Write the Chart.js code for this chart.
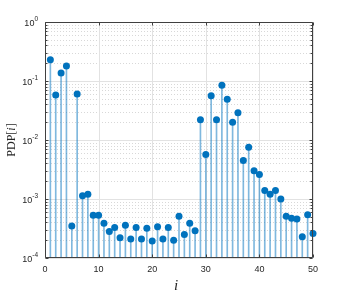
<!DOCTYPE html>
<html lang="en">
<head>
<meta charset="UTF-8" />
<title>PDP stem plot</title>
<script src="https://cdn.jsdelivr.net/npm/chart.js@4"></script>
<style>
  html, body { margin: 0; padding: 0; background: #fff; }
</style>
</head>
<body>
<canvas id="pdpChart" width="346" height="295"></canvas>
<script>
// tap index and power delay profile value per tap
const taps = [];
for (let i = 1; i <= 50; i++) taps.push(i);
const pdp = [
  0.23, 0.058, 0.137, 0.18, 3.5e-4, 0.06, 1.13e-3, 1.2e-3, 5.3e-4, 5.3e-4,
  3.9e-4, 2.8e-4, 3.3e-4, 2.2e-4, 3.6e-4, 2.1e-4, 3.3e-4, 2.1e-4, 3.2e-4, 1.95e-4,
  3.4e-4, 2.1e-4, 3.3e-4, 2.0e-4, 5.1e-4, 2.5e-4, 3.9e-4, 2.9e-4, 0.022, 5.7e-3,
  0.056, 0.022, 0.085, 0.049, 0.020, 0.029, 4.5e-3, 7.5e-3, 3.0e-3, 2.6e-3,
  1.4e-3, 1.2e-3, 1.4e-3, 1.0e-3, 5.1e-4, 4.7e-4, 4.6e-4, 2.3e-4, 5.4e-4, 2.6e-4
];
const xTicks = [0, 10, 20, 30, 40, 50];
const yDecades = [-4, -3, -2, -1, 0];
const yMin = 1e-4, yMax = 1;

const axisColor = '#404040';
const textColor = '#262626';

// grid, box, ticks, log labels and titles (matlab-ish look)
const axesPlugin = {
  id: 'matlabAxes',
  beforeDatasetsDraw(chart) {
    const {ctx, chartArea: a, scales: {x, y}} = chart;
    ctx.save();
    ctx.lineWidth = 1;
    // minor horizontal grid, dotted
    ctx.strokeStyle = '#d8d8d8';
    ctx.setLineDash([1, 2]);
    yDecades.forEach(k => {
      for (let m = 2; m <= 9; m++) {
        const v = m * Math.pow(10, k);
        if (v > yMax) continue;
        const py = Math.round(y.getPixelForValue(v)) + 0.5;
        ctx.beginPath(); ctx.moveTo(a.left, py); ctx.lineTo(a.right, py); ctx.stroke();
      }
    });
    ctx.setLineDash([]);
    // major grid
    ctx.strokeStyle = '#e2e2e2';
    yDecades.forEach(k => {
      const py = Math.round(y.getPixelForValue(Math.pow(10, k))) + 0.5;
      ctx.beginPath(); ctx.moveTo(a.left, py); ctx.lineTo(a.right, py); ctx.stroke();
    });
    xTicks.forEach(t => {
      const px = Math.round(x.getPixelForValue(t)) + 0.5;
      ctx.beginPath(); ctx.moveTo(px, a.top); ctx.lineTo(px, a.bottom); ctx.stroke();
    });
    ctx.restore();
  },
  afterDatasetsDraw(chart) {
    const {ctx, chartArea: a, scales: {x, y}} = chart;
    ctx.save();
    ctx.lineWidth = 1;
    ctx.strokeStyle = axisColor;
    const L = Math.round(a.left) + 0.5, R = Math.round(a.right) - 0.5;
    const T = Math.round(a.top) + 0.5, B = Math.round(a.bottom) - 0.5;
    ctx.beginPath();
    ctx.moveTo(L, T); ctx.lineTo(R, T); ctx.lineTo(R, B); ctx.lineTo(L, B); ctx.closePath();
    // y ticks, both sides, pointing in
    yDecades.forEach(k => {
      for (let m = 1; m <= 9; m++) {
        const v = m * Math.pow(10, k);
        if (v > yMax) continue;
        const py = Math.round(y.getPixelForValue(v)) + 0.5;
        const len = m === 1 ? 3 : 2;
        ctx.moveTo(L, py); ctx.lineTo(L + len, py);
        ctx.moveTo(R, py); ctx.lineTo(R - len, py);
      }
    });
    // x ticks top and bottom
    xTicks.forEach(t => {
      const px = Math.round(x.getPixelForValue(t)) + 0.5;
      ctx.moveTo(px, T); ctx.lineTo(px, T + 3);
      ctx.moveTo(px, B); ctx.lineTo(px, B - 3);
    });
    ctx.stroke();
    ctx.restore();
  },
  afterDraw(chart) {
    const {ctx, chartArea: a, scales: {y}} = chart;
    ctx.save();
    // y tick labels 10^k
    ctx.fillStyle = textColor;
    ctx.textBaseline = 'middle';
    ctx.textAlign = 'left';
    yDecades.forEach(k => {
      const py = y.getPixelForValue(Math.pow(10, k));
      const expo = k === 0 ? '0' : '-' + Math.abs(k);
      ctx.font = '6.5px "Liberation Sans", Arial, sans-serif';
      const ew = ctx.measureText(expo).width;
      ctx.font = '9px "Liberation Sans", Arial, sans-serif';
      const bw = ctx.measureText('10').width;
      const right = a.left - 7;
      ctx.fillText('10', right - ew - bw, py + 2);
      ctx.font = '6.5px "Liberation Sans", Arial, sans-serif';
      ctx.fillText(expo, right - ew, py - 3);
    });

    // axis titles
    ctx.textAlign = 'center';
    ctx.font = 'italic 15px "Liberation Serif", "DejaVu Serif", serif';
    ctx.fillText('i', 176, 286);

    ctx.translate(12, (a.top + a.bottom) / 2);
    ctx.rotate(-Math.PI / 2);
    const parts = [['PDP[', '12px'], ['i', 'italic 12px'], [']', '12px']];
    let total = 0;
    parts.forEach(p => { ctx.font = p[1] + ' "Liberation Serif", serif'; total += ctx.measureText(p[0]).width; });
    let cx = -total / 2;
    ctx.textAlign = 'left';
    parts.forEach(p => {
      ctx.font = p[1] + ' "Liberation Serif", serif';
      ctx.fillText(p[0], cx, 0);
      cx += ctx.measureText(p[0]).width;
    });
    ctx.restore();
  }
};

const ctx = document.getElementById('pdpChart').getContext('2d');
const pdpChart = new Chart(ctx, {
  type: 'scatter',
  data: {
    datasets: [
      {
        type: 'bar',
        label: 'stems',
        data: taps.map((t, k) => ({x: t, y: [yMin, pdp[k]]})),
        backgroundColor: 'rgba(0, 114, 189, 0.5)',
        barThickness: 1,
        order: 2
      },
      {
        label: 'PDP',
        data: taps.map((t, k) => ({x: t, y: pdp[k]})),
        backgroundColor: '#0072BD',
        borderWidth: 0,
        pointRadius: 3.5,
        clip: false,
        order: 1
      }
    ]
  },
  options: {
    responsive: false,
    animation: false,
    devicePixelRatio: 1,
    layout: { padding: { left: 0, right: 33, top: 22, bottom: 0 } },
    plugins: { legend: { display: false }, tooltip: { enabled: false } },
    scales: {
      x: {
        type: 'linear',
        min: 0,
        max: 50,
        offset: false,
        afterBuildTicks: s => { s.ticks = xTicks.map(v => ({value: v})); },
        ticks: {
          color: textColor,
          font: { family: '"Liberation Sans", Arial, sans-serif', size: 9 },
          padding: 6,
          maxRotation: 0
        },
        grid: { display: false, drawTicks: false, offset: false },
        border: { display: false },
        afterFit: s => { s.height = 37; }
      },
      y: {
        type: 'logarithmic',
        min: yMin,
        max: yMax,
        ticks: { display: false },
        grid: { display: false, drawTicks: false },
        border: { display: false },
        afterFit: s => { s.width = 45; }
      }
    }
  },
  plugins: [axesPlugin]
});
</script>
</body>
</html>
